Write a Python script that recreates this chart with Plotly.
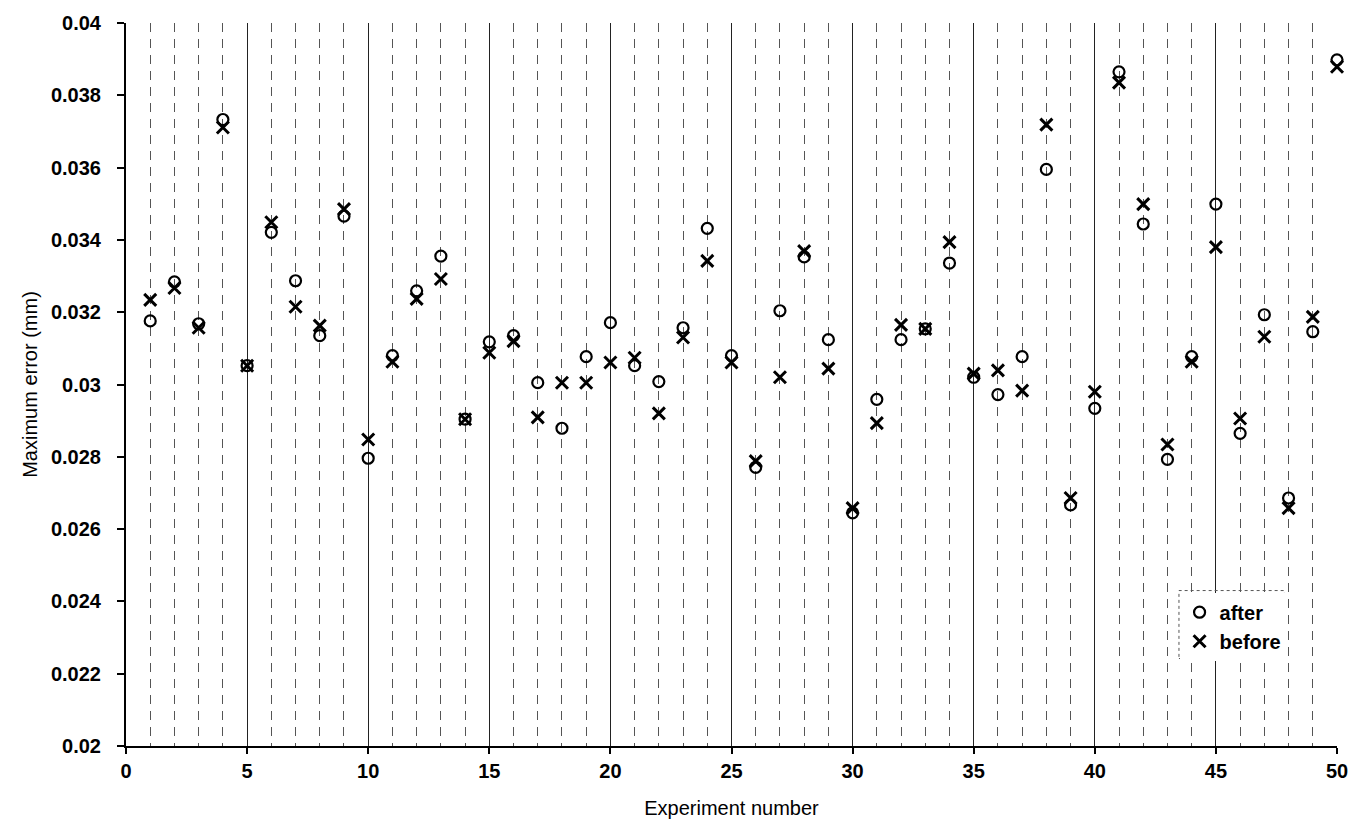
import plotly.graph_objects as go

experiments = list(range(1, 51))
after = [0.03176, 0.03284, 0.03168, 0.03733, 0.03052, 0.03421, 0.03287, 0.03135, 0.03466, 0.02796,
         0.0308, 0.03259, 0.03355, 0.02904, 0.03118, 0.03135, 0.03005, 0.02879, 0.03077, 0.03171,
         0.03052, 0.03008, 0.03157, 0.03432, 0.0308, 0.02771, 0.03204, 0.03353, 0.03124, 0.02645,
         0.02959, 0.03124, 0.03154, 0.03336, 0.0302, 0.02972, 0.03077, 0.03595, 0.02667, 0.02934,
         0.03865, 0.03444, 0.02793, 0.03077, 0.03499, 0.02865, 0.03193, 0.02686, 0.03146, 0.03898]
before = [0.03234, 0.03267, 0.03157, 0.03711, 0.03052, 0.03449, 0.03215, 0.03163, 0.03485, 0.02848,
          0.03063, 0.03237, 0.03292, 0.02904, 0.03088, 0.0312, 0.02909, 0.03005, 0.03005, 0.03061,
          0.03074, 0.0292, 0.0313, 0.03342, 0.03061, 0.02788, 0.0302, 0.03369, 0.03044, 0.02658,
          0.02893, 0.03165, 0.03154, 0.03394, 0.0303, 0.03039, 0.02983, 0.03719, 0.02686, 0.0298,
          0.03835, 0.03499, 0.02834, 0.03063, 0.0338, 0.02906, 0.03132, 0.02658, 0.03187, 0.03879]

y_tickvals = [0.02, 0.022, 0.024, 0.026, 0.028, 0.03, 0.032, 0.034, 0.036, 0.038, 0.04]
y_ticktext = ["0.02", "0.022", "0.024", "0.026", "0.028", "0.03", "0.032", "0.034", "0.036", "0.038", "0.04"]
x_tickvals = [0, 5, 10, 15, 20, 25, 30, 35, 40, 45, 50]

fig = go.Figure()
fig.add_trace(go.Scatter(
    x=experiments, y=after, mode="markers", name="after", cliponaxis=False,
    marker=dict(symbol="circle-open", size=11, color="black", line=dict(width=2.2, color="black")),
))
fig.add_trace(go.Scatter(
    x=experiments, y=before, mode="markers", name="before", cliponaxis=False,
    marker=dict(symbol="x-thin-open", size=12, color="black", line=dict(width=3, color="black")),
))

font_main = "Liberation Sans, Arial, sans-serif"

fig.update_layout(
    width=1364, height=834,
    margin=dict(l=126, r=27, t=20, b=88),
    paper_bgcolor="white", plot_bgcolor="white",
    showlegend=True,
    legend=dict(
        x=0.870, y=0.212, xanchor="left", yanchor="top",
        bgcolor="white", borderwidth=0,
        font=dict(family=font_main, size=20, color="black", weight="bold"),
        itemwidth=30, tracegroupgap=0,
    ),
    shapes=[dict(type="rect", xref="paper", yref="paper",
                 x0=0.8695, x1=0.9565, y0=0.121, y1=0.215,
                 line=dict(color="#555555", width=1, dash="dot"), layer="above")],
)

fig.update_xaxes(
    range=[0, 50], tickvals=x_tickvals,
    showline=True, linecolor="black", linewidth=2,
    ticks="outside", ticklen=6, tickwidth=1.5, tickcolor="black",
    showgrid=True, gridcolor="#222222", gridwidth=1,
    minor=dict(dtick=1, showgrid=True, gridcolor="#555555", gridwidth=1, griddash="9px,7px"),
    zeroline=False,
    tickfont=dict(family=font_main, size=20, color="black", weight="bold"),
    title=dict(text="Experiment number", font=dict(family=font_main, size=20, color="black"), standoff=20),
)
fig.update_yaxes(
    range=[0.02, 0.04], tickvals=y_tickvals, ticktext=y_ticktext,
    showline=True, linecolor="black", linewidth=2,
    ticks="outside", ticklen=7, tickwidth=1.5, tickcolor="black",
    showgrid=False, zeroline=False,
    tickfont=dict(family=font_main, size=20, color="black", weight="bold"),
    ticklabelstandoff=12,
    title=dict(text="Maximum error (mm)", font=dict(family=font_main, size=20, color="black"), standoff=8),
)

fig.write_html("out.html")
